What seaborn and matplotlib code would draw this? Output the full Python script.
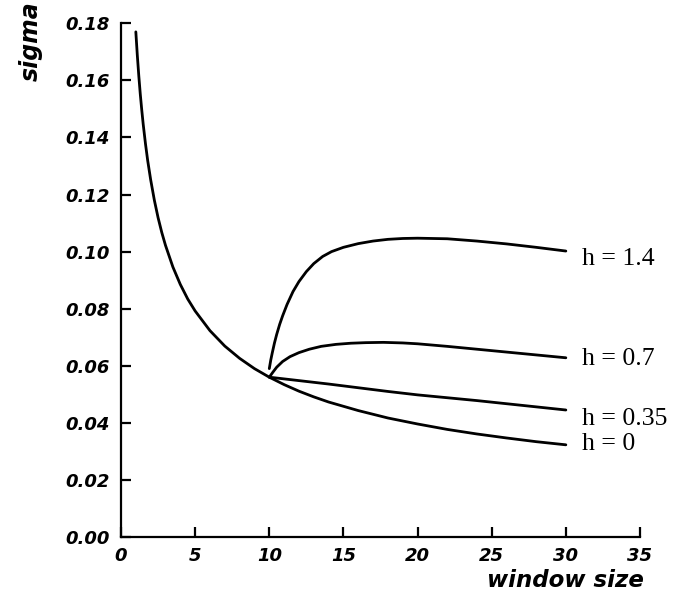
import matplotlib
matplotlib.use("Agg")
import matplotlib.pyplot as plt
import seaborn as sns
import pandas as pd

# ---- data ----
x_h0 = [1, 1.1, 1.2, 1.3, 1.4, 1.5, 1.65, 1.8, 2, 2.25, 2.5, 2.75, 3,
        3.5, 4, 4.5, 5, 6, 7, 8, 9, 10, 11, 12, 13, 14, 16, 18, 20,
        22, 24, 26, 28, 30]
y_h0 = [0.1770, 0.1688, 0.1616, 0.1552, 0.1496, 0.1445, 0.1378, 0.1319,
        0.1252, 0.1180, 0.1119, 0.1067, 0.1022, 0.0946, 0.0885, 0.0834,
        0.0792, 0.0723, 0.0669, 0.0626, 0.0590, 0.0560, 0.0534, 0.0511,
        0.0491, 0.0473, 0.0443, 0.0417, 0.0396, 0.0377, 0.0361, 0.0347,
        0.0334, 0.0323]

x_h035 = [10, 12, 14, 16, 18, 20, 22, 24, 26, 28, 30]
y_h035 = [0.0560, 0.0548, 0.0536, 0.0523, 0.0510, 0.0498, 0.0488,
          0.0478, 0.0467, 0.0456, 0.0445]

x_h07 = [10, 10.25, 10.5, 10.9, 11.4, 12, 12.7, 13.5, 14.5, 15.5, 16.5,
         17.7, 19, 20, 22, 24, 26, 28, 30]
y_h07 = [0.0560, 0.0578, 0.0595, 0.0615, 0.0632, 0.0646, 0.0658, 0.0668,
         0.0675, 0.0679, 0.0681, 0.0682, 0.0680, 0.0677, 0.0668, 0.0658,
         0.0648, 0.0638, 0.0628]

x_h14 = [10, 10.1, 10.2, 10.35, 10.5, 10.7, 10.9, 11.2, 11.6, 12.0, 12.5,
         13.0, 13.6, 14.2, 15.0, 16.0, 17.0, 18.0, 19.0, 20, 22, 24, 26,
         28, 30]
y_h14 = [0.0590, 0.0620, 0.0645, 0.0680, 0.0710, 0.0745, 0.0775, 0.0815,
         0.0860, 0.0895, 0.0930, 0.0958, 0.0983, 0.1000, 0.1015, 0.1028,
         0.1037, 0.1043, 0.1046, 0.1047, 0.1045, 0.1037, 0.1027, 0.1015,
         0.1002]

series_labels = ["h = 0", "h = 0.35", "h = 0.7", "h = 1.4"]
label_y = [0.0325, 0.0415, 0.0625, 0.0975]
label_x = 31.1

x_ticks = [0, 5, 10, 15, 20, 25, 30, 35]
y_ticks = [0.00, 0.02, 0.04, 0.06, 0.08, 0.10, 0.12, 0.14, 0.16, 0.18]

frames = []
for lab, xs, ys in zip(series_labels,
                       [x_h0, x_h035, x_h07, x_h14],
                       [y_h0, y_h035, y_h07, y_h14]):
    frames.append(pd.DataFrame({"window size": xs, "sigma": ys, "h": lab}))
df = pd.concat(frames, ignore_index=True)

# ---- figure ----
sns.set_theme(style="ticks")
plt.rcParams["font.family"] = ["DejaVu Sans"]
plt.rcParams.update({"text.color": "black", "axes.labelcolor": "black",
                     "xtick.color": "black", "ytick.color": "black"})

fig = plt.figure(figsize=(6.93, 6.04), dpi=100)
ax = fig.add_axes([121 / 693, 1 - 537 / 604, 519 / 693, (537 - 23.3) / 604])

sns.lineplot(data=df, x="window size", y="sigma", hue="h",
             palette=["black"] * 4, estimator=None, sort=True,
             legend=False, linewidth=2.0, ax=ax)

ax.set_xlim(0, 35)
ax.set_ylim(0, 0.18)
ax.set_xticks(x_ticks)
ax.set_xticklabels([str(v) for v in x_ticks])
ax.set_yticks(y_ticks)
ax.set_yticklabels([f"{v:.2f}" for v in y_ticks])

sns.despine(ax=ax)
for s in ["left", "bottom"]:
    ax.spines[s].set_linewidth(1.6)
    ax.spines[s].set_color("black")

ax.tick_params(direction="in", length=7, width=1.6, color="black",
               labelsize=13)
ax.tick_params(axis="y", pad=8)
ax.tick_params(axis="x", pad=7)
for t in ax.get_xticklabels() + ax.get_yticklabels():
    t.set_fontweight("bold")
    t.set_fontstyle("oblique")

ax.set_xlabel("window size", fontsize=16.5, fontweight="bold",
              fontstyle="oblique")
ax.set_ylabel("sigma", fontsize=17, fontweight="bold",
              fontstyle="oblique")
ax.xaxis.set_label_coords(0.857, -0.063)
ax.yaxis.set_label_coords(-0.150, 0.965)

for lab, yy in zip(series_labels, label_y):
    ax.text(label_x, yy, lab, family=["Liberation Serif", "DejaVu Serif"],
            fontsize=18.5, ha="left", va="center", color="black")

fig.savefig("out.png", dpi=100, facecolor="white")
